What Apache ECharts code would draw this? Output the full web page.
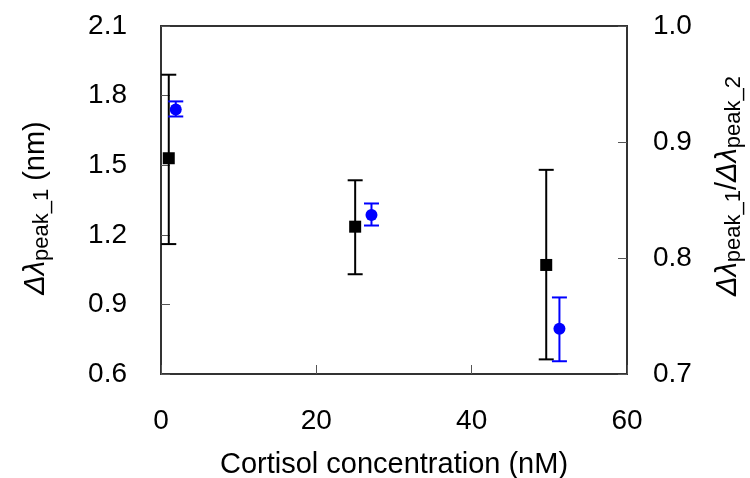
<!DOCTYPE html>
<html>
<head>
<meta charset="utf-8">
<script src="https://cdn.jsdelivr.net/npm/echarts@6/dist/echarts.min.js"></script>
<style>
  html, body { margin: 0; padding: 0; background: #fff; }
  #chart { width: 750px; height: 478px; }
</style>
</head>
<body>
<div id="chart"></div>
<script>
// Δλ peak_1 (left axis, nm) - black squares
var shiftX = [1, 25, 49.6];
var shiftY = [1.53, 1.235, 1.07];
var shiftLo = [1.16, 1.03, 0.663];
var shiftHi = [1.89, 1.435, 1.48];

// Δλ peak_1 / Δλ peak_2 (right axis) - blue circles
var ratioX = [1.9, 27.1, 51.3];
var ratioY = [0.928, 0.837, 0.739];
var ratioLo = [0.922, 0.828, 0.711];
var ratioHi = [0.935, 0.847, 0.766];

var font = '"Liberation Sans", Arial, sans-serif';

function pts(xs, ys) {
  return xs.map(function (x, i) { return [x, ys[i]]; });
}
function bars(xs, lo, hi) {
  return xs.map(function (x, i) { return [x, lo[i], hi[i]]; });
}

function errorBars(color) {
  return function (params, api) {
    var x = api.value(0);
    var lo = api.coord([x, api.value(1)]);
    var hi = api.coord([x, api.value(2)]);
    var w = 7.5;
    var style = { stroke: color, lineWidth: 2 };
    return {
      type: 'group',
      children: [
        { type: 'line', shape: { x1: lo[0], y1: lo[1], x2: hi[0], y2: hi[1] }, style: style },
        { type: 'line', shape: { x1: hi[0] - w, y1: hi[1], x2: hi[0] + w, y2: hi[1] }, style: style },
        { type: 'line', shape: { x1: lo[0] - w, y1: lo[1], x2: lo[0] + w, y2: lo[1] }, style: style }
      ]
    };
  };
}

var nameRich = {
  g: { fontStyle: 'italic', fontSize: 29, fontFamily: font, color: '#000', lineHeight: 34, verticalAlign: 'middle' },
  s: { fontSize: 22, fontFamily: font, color: '#000', lineHeight: 20, verticalAlign: 'bottom' },
  n: { fontSize: 29, fontFamily: font, color: '#000', lineHeight: 34, verticalAlign: 'middle' }
};

var chart = echarts.init(document.getElementById('chart'));
var option = {
  animation: false,
  backgroundColor: '#fff',
  grid: {
    left: 161,
    right: 123,
    top: 26,
    bottom: 104,
    outerBoundsMode: 'none',
    containLabel: false,
    show: true,
    borderColor: '#333',
    borderWidth: 2
  },
  xAxis: {
    type: 'value',
    min: 0,
    max: 60,
    interval: 20,
    name: 'Cortisol concentration (nM)',
    nameLocation: 'middle',
    nameGap: 76,
    nameTextStyle: { fontSize: 29, fontFamily: font, color: '#000' },
    axisLine: { show: true, lineStyle: { color: '#333', width: 2 } },
    axisTick: { show: true, inside: true, length: 9, lineStyle: { color: '#555', width: 1 } },
    axisLabel: { fontSize: 28, fontFamily: font, color: '#000', margin: 33 },
    splitLine: { show: false }
  },
  yAxis: [
    {
      type: 'value',
      position: 'left',
      min: 0.6,
      max: 2.1,
      interval: 0.3,
      name: '{g|Δλ}{s|peak_1}{n| (nm)}',
      nameLocation: 'middle',
      nameGap: 108,
      nameRotate: 90,
      nameTextStyle: { padding: [0, 16, 0, 0], rich: nameRich },
      axisLine: { show: true, lineStyle: { color: '#333', width: 2 } },
      axisTick: { show: true, inside: true, length: 9, lineStyle: { color: '#555', width: 1 } },
      axisLabel: {
        fontSize: 28, fontFamily: font, color: '#000', margin: 34,
        formatter: function (v) { return v.toFixed(1); }
      },
      splitLine: { show: false }
    },
    {
      type: 'value',
      position: 'right',
      min: 0.7,
      max: 1.0,
      interval: 0.1,
      name: '{g|Δλ}{s|peak_1}{n|/}{g|Δλ}{s|peak_2}',
      nameLocation: 'middle',
      nameGap: 84,
      nameRotate: 90,
      nameTextStyle: { padding: [0, 0, 0, 28], rich: nameRich },
      axisLine: { show: true, lineStyle: { color: '#333', width: 2 } },
      axisTick: { show: true, inside: true, length: 9, lineStyle: { color: '#555', width: 1 } },
      axisLabel: {
        fontSize: 28, fontFamily: font, color: '#000', margin: 26,
        formatter: function (v) { return v.toFixed(1); }
      },
      splitLine: { show: false }
    }
  ],
  series: [
    {
      type: 'custom',
      yAxisIndex: 0,
      renderItem: errorBars('#000'),
      data: bars(shiftX, shiftLo, shiftHi),
      z: 2
    },
    {
      type: 'custom',
      yAxisIndex: 1,
      renderItem: errorBars('#0000ff'),
      data: bars(ratioX, ratioLo, ratioHi),
      z: 2
    },
    {
      name: 'shift',
      type: 'scatter',
      yAxisIndex: 0,
      symbol: 'rect',
      symbolSize: 12,
      itemStyle: { color: '#000', opacity: 1 },
      data: pts(shiftX, shiftY),
      z: 3
    },
    {
      name: 'ratio',
      type: 'scatter',
      yAxisIndex: 1,
      symbol: 'circle',
      symbolSize: 12,
      itemStyle: { color: '#0000ff', opacity: 1 },
      data: pts(ratioX, ratioY),
      z: 3
    }
  ]
};
chart.setOption(option);
</script>
</body>
</html>
